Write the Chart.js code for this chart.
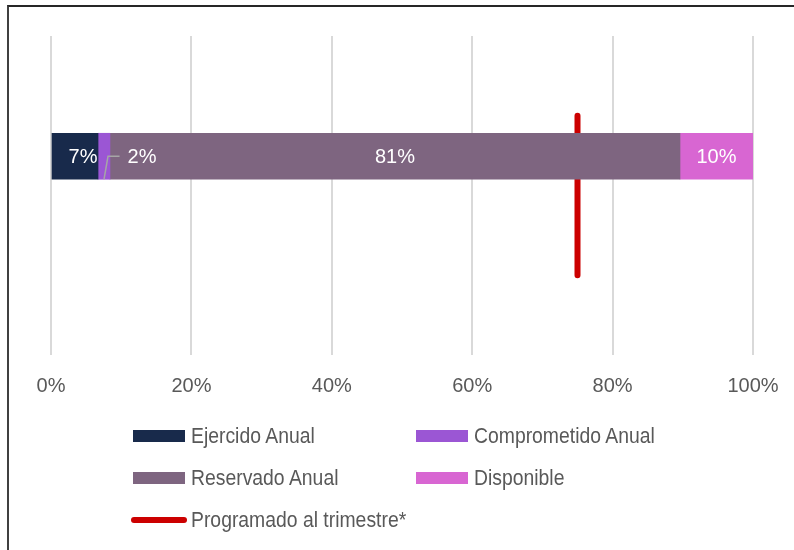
<!DOCTYPE html>
<html>
<head>
<meta charset="utf-8">
<script src="https://cdn.jsdelivr.net/npm/chart.js@4.4.1/dist/chart.umd.min.js"></script>
<style>
    html, body { margin: 0; padding: 0; background: #fff; overflow: hidden; }
    #wrap { position: relative; width: 794px; height: 550px; }
    #frame {
        position: absolute; left: 7px; top: 5px; width: 820px; height: 580px;
        border-top: 2px solid #262626; border-left: 2px solid #404040;
    }
    #chart { position: absolute; left: 0; top: 0; }
    #legend {
        position: absolute; left: 131px; top: 415px;
        display: grid; grid-template-columns: 283px 283px; grid-auto-rows: 42px;
        font-family: "Liberation Sans", Arial, sans-serif;
        font-size: 22px; color: #595959;
    }
    .item { display: flex; align-items: center; white-space: nowrap; }
    .item span { flex-shrink: 0; }
    .txt { display: inline-block; transform: scaleX(0.88); transform-origin: left center; }
    .swatch { width: 52px; height: 12px; margin-right: 6px; margin-left: 2px; }
    .line { width: 56px; height: 6px; border-radius: 3px; margin-right: 4px; margin-left: 0; }
</style>
</head>
<body>
<div id="wrap">
    <div id="frame"></div>
    <canvas id="chart" width="794" height="550"></canvas>
    <div id="legend"></div>
</div>
<script>
    // shares of the annual budget, in percent
    const seriesNames = ["Ejercido Anual", "Comprometido Anual", "Reservado Anual", "Disponible"];
    const seriesValues = [6.7, 1.7, 81.2, 10.4];
    const seriesColors = ["#182a4b", "#9b56d4", "#7e6580", "#d866d2"];

    // quarter target line
    const targetName = "Programado al trimestre*";
    const targetValue = 75;
    const targetSpan = [0.25, 0.75];
    const barPosition = 0.377;

    const xTicks = [0, 20, 40, 60, 80, 100];

    const FONT = "'Liberation Sans', Arial, sans-serif";

    // white value labels inside the bar segments
    const valueLabels = {
        id: "valueLabels",
        afterDatasetsDraw(chart) {
            const ctx = chart.ctx;
            ctx.save();
            ctx.font = "20px " + FONT;
            ctx.textBaseline = "middle";
            chart.data.datasets.forEach(function (ds, i) {
                if (ds.type === "line") return;
                let meta = chart.getDatasetMeta(i);
                let bar = meta.data[0];
                let cx = (bar.x + bar.base) / 2;
                let cy = bar.y;
                let lab = ds.label_opts || {};
                let tx = cx + (lab.dx || 0);
                let text = Math.round(ds.data[0].x) + "%";

                if (lab.leader) {
                    let w = ctx.measureText(text).width;
                    ctx.strokeStyle = "#a6a6a6";
                    ctx.lineWidth = 1.5;
                    ctx.beginPath();
                    ctx.moveTo(cx, bar.y + bar.height / 2);
                    ctx.lineTo(cx + 4, cy);
                    ctx.lineTo(tx - w / 2 - 8, cy);
                    ctx.stroke();
                }
                ctx.fillStyle = "#ffffff";
                ctx.textAlign = "center";
                ctx.fillText(text, tx, cy + 1);
            });
            ctx.restore();
        }
    };

    let datasets = seriesNames.map(function (name, i) {
        return {
            label: name,
            data: [{ x: seriesValues[i], y: barPosition }],
            backgroundColor: seriesColors[i],
            barThickness: 46,
            stack: "budget",
            label_opts: i === 0 ? { dx: 8 } : (i === 1 ? { dx: 38, leader: true } : {})
        };
    });

    datasets.push({
        type: "line",
        label: targetName,
        data: [{ x: targetValue, y: targetSpan[0] }, { x: targetValue, y: targetSpan[1] }],
        borderColor: "#cc0000",
        backgroundColor: "#cc0000",
        borderWidth: 6,
        borderCapStyle: "round",
        pointRadius: 0,
        stack: "target"
    });

    const chart = new Chart(document.getElementById("chart"), {
        type: "bar",
        data: { datasets: datasets },
        options: {
            indexAxis: "y",
            responsive: false,
            animation: false,
            layout: { padding: { left: 51, right: 41, top: 36, bottom: 133 } },
            plugins: { legend: { display: false }, tooltip: { enabled: false } },
            scales: {
                x: {
                    type: "linear",
                    stacked: true,
                    min: 0,
                    max: 100,
                    offset: false,
                    afterBuildTicks: function (axis) {
                        axis.ticks = xTicks.map(v => ({ value: v }));
                    },
                    afterFit: function (axis) {
                        // let the layout padding decide the plot width
                        axis.paddingLeft = 0;
                        axis.paddingRight = 0;
                    },
                    border: { display: false },
                    grid: { color: "#d9d9d9", lineWidth: 2, drawTicks: false, offset: false },
                    ticks: {
                        padding: 19,
                        color: "#595959",
                        font: { family: FONT, size: 20 },
                        callback: v => v + "%"
                    }
                },
                y: {
                    type: "linear",
                    stacked: true,
                    display: false,
                    offset: false,
                    grid: { offset: false },
                    min: 0,
                    max: 1,
                    reverse: true
                }
            }
        },
        plugins: [valueLabels]
    });

    // legend built from the chart's datasets
    const legend = document.getElementById("legend");
    chart.data.datasets.forEach(function (ds) {
        let item = document.createElement("div");
        item.className = "item";
        let sw = document.createElement("span");
        sw.className = ds.type === "line" ? "line" : "swatch";
        sw.style.background = ds.backgroundColor;
        let txt = document.createElement("span");
        txt.className = "txt";
        txt.textContent = ds.label;
        item.appendChild(sw);
        item.appendChild(txt);
        legend.appendChild(item);
    });
</script>
</body>
</html>
